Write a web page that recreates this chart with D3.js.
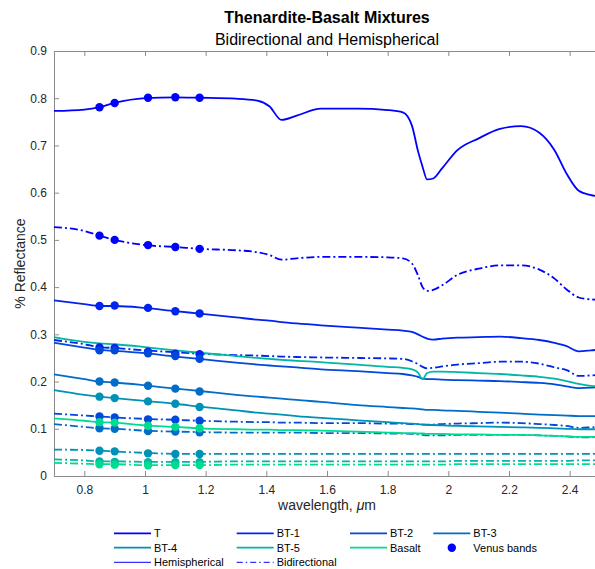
<!DOCTYPE html>
<html>
<head>
<meta charset="utf-8">
<script src="https://cdn.jsdelivr.net/npm/d3@7"></script>
<style>
body { margin: 0; background: #fff; }
text { font-family: "Liberation Sans", Arial, Helvetica, sans-serif; fill: #262626; }
</style>
</head>
<body>
<div id="chart"></div>
<script>
// wavelength grid (um) shared by every spectrum
var wavelength = [0.70, 0.80, 0.85, 0.90, 1.00, 1.10, 1.18, 1.30, 1.37, 1.41, 1.45, 1.50, 1.58, 1.70, 1.80, 1.85,
                  1.88, 1.90, 1.915, 1.93, 1.95, 1.98, 2.03, 2.10, 2.17, 2.24, 2.30, 2.35, 2.39, 2.43, 2.47, 2.50];

// hemispherical spectra
var T_hemi = [0.773, 0.776, 0.781, 0.790, 0.800, 0.802, 0.801, 0.799, 0.795, 0.783, 0.754, 0.763, 0.778, 0.778, 0.775, 0.770,
              0.742, 0.688, 0.655, 0.628, 0.630, 0.652, 0.690, 0.715, 0.735, 0.741, 0.727, 0.690, 0.640, 0.604, 0.595, 0.592];
var BT1_hemi = [0.372, 0.364, 0.360, 0.360, 0.356, 0.349, 0.344, 0.336, 0.331, 0.329, 0.326, 0.323, 0.319, 0.314, 0.310, 0.308,
                0.305, 0.300, 0.295, 0.291, 0.289, 0.291, 0.293, 0.294, 0.295, 0.292, 0.288, 0.282, 0.275, 0.264, 0.266, 0.268];
var BT2_hemi = [0.282, 0.272, 0.267, 0.265, 0.260, 0.253, 0.248, 0.240, 0.236, 0.234, 0.232, 0.230, 0.226, 0.222, 0.218, 0.216,
                0.213, 0.210, 0.206, 0.205, 0.205, 0.204, 0.203, 0.202, 0.201, 0.199, 0.197, 0.194, 0.190, 0.186, 0.187, 0.189];
var BT3_hemi = [0.215, 0.205, 0.200, 0.198, 0.192, 0.185, 0.180, 0.172, 0.168, 0.166, 0.164, 0.161, 0.157, 0.150, 0.146, 0.144,
                0.143, 0.142, 0.141, 0.140, 0.140, 0.139, 0.138, 0.136, 0.134, 0.132, 0.130, 0.129, 0.128, 0.127, 0.127, 0.126];
var BT4_hemi = [0.182, 0.172, 0.168, 0.165, 0.159, 0.153, 0.147, 0.139, 0.134, 0.132, 0.130, 0.127, 0.123, 0.118, 0.114, 0.112,
                0.111, 0.110, 0.109, 0.108, 0.108, 0.107, 0.106, 0.105, 0.104, 0.103, 0.102, 0.101, 0.100, 0.099, 0.099, 0.099];
var BT5_hemi = [0.294, 0.284, 0.281, 0.279, 0.273, 0.266, 0.261, 0.254, 0.250, 0.248, 0.246, 0.244, 0.241, 0.236, 0.231, 0.229,
                0.226, 0.219, 0.205, 0.218, 0.221, 0.221, 0.220, 0.218, 0.216, 0.213, 0.210, 0.206, 0.201, 0.195, 0.191, 0.190];
var Basalt_hemi = [0.122, 0.117, 0.114, 0.113, 0.107, 0.104, 0.101, 0.099, 0.098, 0.098, 0.097, 0.097, 0.096, 0.094, 0.092, 0.091,
                   0.091, 0.090, 0.090, 0.089, 0.089, 0.089, 0.088, 0.088, 0.087, 0.087, 0.086, 0.085, 0.084, 0.083, 0.083, 0.083];

// bidirectional spectra
var T_bi = [0.527, 0.519, 0.509, 0.500, 0.489, 0.485, 0.481, 0.478, 0.474, 0.468, 0.458, 0.461, 0.464, 0.464, 0.463, 0.461,
            0.450, 0.425, 0.400, 0.392, 0.394, 0.404, 0.426, 0.439, 0.446, 0.446, 0.437, 0.418, 0.395, 0.378, 0.374, 0.373];
var BT1_bi = [0.288, 0.279, 0.273, 0.271, 0.266, 0.262, 0.259, 0.256, 0.255, 0.254, 0.253, 0.252, 0.251, 0.250, 0.249, 0.248,
              0.243, 0.237, 0.231, 0.228, 0.229, 0.232, 0.236, 0.239, 0.242, 0.242, 0.238, 0.230, 0.224, 0.212, 0.213, 0.215];
var BT2_bi = [0.132, 0.128, 0.126, 0.124, 0.121, 0.119, 0.117, 0.115, 0.114, 0.114, 0.113, 0.113, 0.112, 0.112, 0.111, 0.111,
              0.110, 0.110, 0.109, 0.109, 0.109, 0.110, 0.111, 0.112, 0.113, 0.112, 0.110, 0.108, 0.106, 0.102, 0.103, 0.104];
var BT3_bi = [0.110, 0.104, 0.101, 0.100, 0.096, 0.094, 0.093, 0.092, 0.092, 0.092, 0.092, 0.092, 0.091, 0.091, 0.090, 0.090,
              0.089, 0.088, 0.087, 0.086, 0.086, 0.086, 0.087, 0.087, 0.087, 0.087, 0.086, 0.085, 0.084, 0.082, 0.082, 0.083];
var BT4_bi = [0.056, 0.055, 0.054, 0.052, 0.049, 0.047, 0.047, 0.047, 0.047, 0.047, 0.047, 0.047, 0.047, 0.047, 0.047, 0.047,
              0.047, 0.047, 0.047, 0.047, 0.047, 0.047, 0.047, 0.047, 0.047, 0.047, 0.047, 0.047, 0.047, 0.047, 0.047, 0.047];
var BT5_bi = [0.035, 0.033, 0.031, 0.031, 0.030, 0.030, 0.030, 0.031, 0.031, 0.031, 0.031, 0.031, 0.031, 0.031, 0.031, 0.031,
              0.031, 0.031, 0.031, 0.031, 0.031, 0.031, 0.032, 0.032, 0.032, 0.032, 0.032, 0.032, 0.032, 0.033, 0.033, 0.033];
var Basalt_bi = [0.028, 0.026, 0.025, 0.025, 0.023, 0.023, 0.023, 0.024, 0.024, 0.024, 0.024, 0.024, 0.024, 0.024, 0.024, 0.024,
                 0.024, 0.024, 0.024, 0.024, 0.024, 0.024, 0.025, 0.025, 0.025, 0.025, 0.025, 0.025, 0.025, 0.025, 0.025, 0.025];

// Venus window bands and the values marked on each curve
var bands = [0.85, 0.90, 1.01, 1.10, 1.18];
var T_hemi_bands = [0.781, 0.790, 0.801, 0.802, 0.801];
var T_bi_bands = [0.509, 0.500, 0.489, 0.485, 0.481];
var BT1_hemi_bands = [0.360, 0.361, 0.356, 0.349, 0.344];
var BT1_bi_bands = [0.272, 0.271, 0.263, 0.259, 0.258];
var BT2_hemi_bands = [0.266, 0.266, 0.260, 0.254, 0.248];
var BT2_bi_bands = [0.126, 0.124, 0.120, 0.119, 0.117];
var BT3_hemi_bands = [0.200, 0.198, 0.191, 0.185, 0.179];
var BT3_bi_bands = [0.101, 0.100, 0.095, 0.094, 0.0925];
var BT4_hemi_bands = [0.168, 0.165, 0.158, 0.153, 0.146];
var BT4_bi_bands = [0.0536, 0.0522, 0.048, 0.0466, 0.0466];
var BT5_bi_bands = [0.031, 0.030, 0.029, 0.029, 0.029];
var Basalt_hemi_bands = [0.114, 0.113, 0.1065, 0.104, 0.101];
var Basalt_bi_bands = [0.0247, 0.024, 0.0226, 0.023, 0.023];

var samples = ["T", "BT-1", "BT-2", "BT-3", "BT-4", "BT-5", "Basalt"];
var colors = ["#0000ff", "#0024ed", "#0049db", "#006dc8", "#0092b6", "#00b6a4", "#00db92"];
var xTicks = [0.8, 1, 1.2, 1.4, 1.6, 1.8, 2, 2.2, 2.4];
var yTicks = [0, 0.1, 0.2, 0.3, 0.4, 0.5, 0.6, 0.7, 0.8, 0.9];

var hemi = [T_hemi, BT1_hemi, BT2_hemi, BT3_hemi, BT4_hemi, BT5_hemi, Basalt_hemi];
var bi = [T_bi, BT1_bi, BT2_bi, BT3_bi, BT4_bi, BT5_bi, Basalt_bi];
var hemiBands = [T_hemi_bands, BT1_hemi_bands, BT2_hemi_bands, BT3_hemi_bands, BT4_hemi_bands, null, Basalt_hemi_bands];
var biBands = [T_bi_bands, BT1_bi_bands, BT2_bi_bands, BT3_bi_bands, BT4_bi_bands, BT5_bi_bands, Basalt_bi_bands];

var width = 595;
var height = 569;
var plotLeft = 54, plotRight = 600, plotTop = 51, plotBottom = 476;
var dashDot = "8,3,2,3";

var svg = d3.select("#chart")
    .append("svg")
    .attr("width", width)
    .attr("height", height);

var x = d3.scaleLinear().domain([0.7, 2.5]).range([plotLeft, plotRight]);
var y = d3.scaleLinear().domain([0, 0.9]).range([plotBottom, plotTop]);

// axes (ticks point inward, box on all four sides)
var axisColor = "#8a8a8a";
function styleAxis(g) {
    g.attr("font-family", null).attr("font-size", null);
    g.select(".domain").attr("stroke", axisColor).attr("fill", "none");
    g.selectAll(".tick line").attr("stroke", axisColor);
    g.selectAll(".tick text").style("fill", "#262626").style("font-size", "12px");
}

svg.append("g")
    .attr("transform", "translate(0," + plotBottom + ")")
    .call(d3.axisBottom(x).tickValues(xTicks).tickSize(-5).tickSizeOuter(0).tickPadding(9).tickFormat(function(d) { return d; }))
    .call(styleAxis);
svg.append("g")
    .attr("transform", "translate(0," + plotTop + ")")
    .call(d3.axisTop(x).tickValues(xTicks).tickSize(-5).tickSizeOuter(0).tickFormat(""))
    .call(styleAxis);
svg.append("g")
    .attr("transform", "translate(" + plotLeft + ",0)")
    .call(d3.axisLeft(y).tickValues(yTicks).tickSize(-5).tickSizeOuter(0).tickPadding(7).tickFormat(function(d) { return d; }))
    .call(styleAxis);
svg.append("g")
    .attr("transform", "translate(" + plotRight + ",0)")
    .call(d3.axisRight(y).tickValues(yTicks).tickSize(-5).tickSizeOuter(0).tickFormat(""))
    .call(styleAxis);

var line = d3.line()
    .x(function(d, i) { return x(wavelength[i]); })
    .y(function(d) { return y(d); })
    .curve(d3.curveMonotoneX);

var plot = svg.append("g").attr("class", "plot");

// spectra
samples.forEach(function(name, k) {
    plot.append("path")
        .attr("class", "hemi")
        .attr("d", line(hemi[k]))
        .attr("fill", "none")
        .attr("stroke", colors[k])
        .attr("stroke-width", 1.8);
    plot.append("path")
        .attr("class", "bi")
        .attr("d", line(bi[k]))
        .attr("fill", "none")
        .attr("stroke", colors[k])
        .attr("stroke-width", 1.8)
        .attr("stroke-dasharray", dashDot);
});

// Venus band markers
samples.forEach(function(name, k) {
    [hemiBands[k], biBands[k]].forEach(function(vals) {
        if (!vals) return;
        plot.selectAll(null)
            .data(vals)
            .enter()
            .append("circle")
            .attr("cx", function(d, i) { return x(bands[i]); })
            .attr("cy", function(d) { return y(d); })
            .attr("r", 4.2)
            .attr("fill", colors[k]);
    });
});

// titles
svg.append("text")
    .attr("x", (plotLeft + plotRight) / 2)
    .attr("y", 23)
    .attr("text-anchor", "middle")
    .style("font-size", "16px")
    .style("font-weight", "bold")
    .style("fill", "#000")
    .text("Thenardite-Basalt Mixtures");
svg.append("text")
    .attr("x", (plotLeft + plotRight) / 2)
    .attr("y", 45)
    .attr("text-anchor", "middle")
    .style("font-size", "16px")
    .style("fill", "#000")
    .text("Bidirectional and Hemispherical");

// axis labels
var xlab = svg.append("text")
    .attr("x", (plotLeft + plotRight) / 2)
    .attr("y", 510)
    .attr("text-anchor", "middle")
    .style("font-size", "14px");
xlab.append("tspan").text("wavelength, ");
xlab.append("tspan").style("font-style", "italic").text("\u03bc");
xlab.append("tspan").text("m");

svg.append("text")
    .attr("transform", "translate(25," + (plotTop + plotBottom) / 2 + ") rotate(-90)")
    .attr("text-anchor", "middle")
    .style("font-size", "14px")
    .text("% Reflectance");

// legend
var legCols = [114, 236.7, 350, 433.3];
var legRows = [533.3, 547.7, 562.3];
var legLen = 37;
var legend = svg.append("g").attr("class", "legend");

var entries = samples.map(function(name, k) { return { label: name, color: colors[k], kind: "line" }; });
entries.push({ label: "Venus bands", color: "#0000ff", kind: "dot" });
entries.push({ label: "Hemispherical", color: "#0000ff", kind: "thin" });
entries.push({ label: "Bidirectional", color: "#0000ff", kind: "dash" });

entries.forEach(function(e, i) {
    var cx = legCols[i % 4];
    var cy = legRows[Math.floor(i / 4)];
    var item = legend.append("g").attr("transform", "translate(" + cx + "," + cy + ")");
    if (e.kind === "dot") {
        item.append("circle")
            .attr("cx", legLen / 2)
            .attr("cy", 0)
            .attr("r", 4.2)
            .attr("fill", e.color);
    } else {
        item.append("line")
            .attr("x1", 0).attr("x2", legLen)
            .attr("y1", 0).attr("y2", 0)
            .attr("stroke", e.color)
            .attr("stroke-width", e.kind === "line" ? 1.8 : 1)
            .attr("stroke-dasharray", e.kind === "dash" ? "6,3,1.5,3" : null);
    }
    item.append("text")
        .attr("x", legLen + 3)
        .attr("y", 0)
        .attr("dy", "0.36em")
        .style("font-size", "11px")
        .style("fill", "#000")
        .text(e.label);
});
</script>
</body>
</html>
